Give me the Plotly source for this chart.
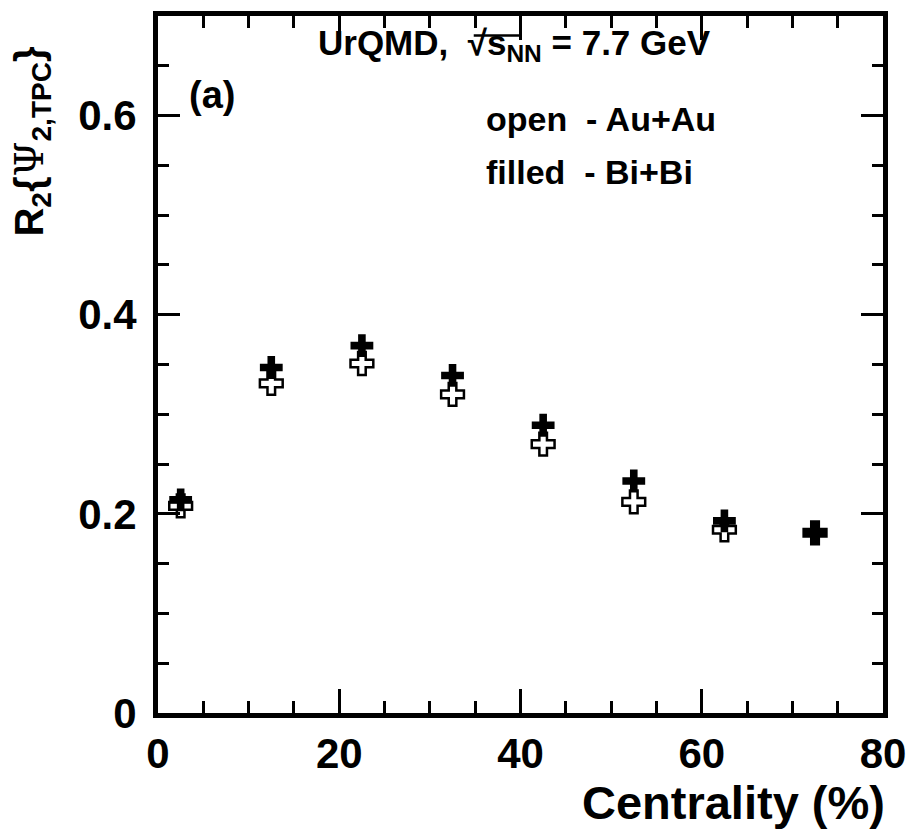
import plotly.graph_objects as go

centrality = [2.5, 12.5, 22.5, 32.5, 42.5, 52.5, 62.5, 72.5]
r2_auau = [0.208, 0.331, 0.351, 0.320, 0.270, 0.212, 0.184, 0.181]
r2_bibi = [0.214, 0.347, 0.369, 0.339, 0.289, 0.233, 0.193, 0.181]

FONT = "Liberation Sans"

fig = go.Figure()
fig.add_trace(go.Scatter(
    x=centrality, y=r2_bibi, mode="markers", name="Bi+Bi",
    marker=dict(symbol="cross", size=19, color="black", line=dict(color="black", width=0)),
))
fig.add_trace(go.Scatter(
    x=centrality, y=r2_auau, mode="markers", name="Au+Au",
    marker=dict(symbol="cross-open", size=19, color="black", line=dict(color="black", width=2.5)),
))

axis_common = dict(
    showline=True, linewidth=5, linecolor="black", mirror="ticks",
    ticks="inside", tickwidth=3, tickcolor="black",
    showgrid=False, zeroline=False,
    tickfont=dict(family=FONT, size=42, color="black", weight="bold"),
)

fig.update_xaxes(range=[0, 80], dtick=20, tick0=0, ticklen=24,
                 minor=dict(dtick=5, ticklen=12, tickwidth=3, ticks="inside", tickcolor="black", showgrid=False),
                 ticklabelstandoff=0,
                 **axis_common)
fig.update_yaxes(range=[0, 0.7], dtick=0.2, tick0=0, ticklen=22,
                 minor=dict(dtick=0.05, ticklen=11, tickwidth=3, ticks="inside", tickcolor="black", showgrid=False),
                 ticklabelstandoff=8,
                 **axis_common)

fig.add_annotation(xref="paper", yref="paper", x=1.005, y=-0.1285, xanchor="right", yanchor="middle",
                   text="Centrality (%)", showarrow=False,
                   font=dict(family=FONT, size=47, color="black", weight="bold"))
fig.add_annotation(xref="paper", yref="paper", x=-0.175, y=0.82, xanchor="center", yanchor="middle",
                   textangle=-90, showarrow=False,
                   text="R<sub>2</sub>{<span style='font-family:DejaVu Serif;font-weight:normal'>Ψ</span><sub>2,TPC</sub>}",
                   font=dict(family=FONT, size=40, color="black", weight="bold"))
fig.add_annotation(xref="paper", yref="paper", x=0.218, y=0.958, xanchor="left", yanchor="middle",
                   text="UrQMD,  √s<sub>NN</sub> = 7.7 GeV", showarrow=False,
                   font=dict(family=FONT, size=35, color="black", weight="bold"))
# vinculum of the square-root sign
fig.add_shape(type="line", xref="paper", yref="paper", x0=0.4355, x1=0.50, y0=0.972, y1=0.972,
              line=dict(color="black", width=2.5))
fig.add_annotation(xref="paper", yref="paper", x=0.04, y=0.886, xanchor="left", yanchor="middle",
                   text="(a)", showarrow=False,
                   font=dict(family=FONT, size=38, color="black", weight="bold"))
fig.add_annotation(xref="paper", yref="paper", x=0.45, y=0.852, xanchor="left", yanchor="middle",
                   text="open  - Au+Au", showarrow=False,
                   font=dict(family=FONT, size=34, color="black", weight="bold"))
fig.add_annotation(xref="paper", yref="paper", x=0.45, y=0.776, xanchor="left", yanchor="middle",
                   text="filled  - Bi+Bi", showarrow=False,
                   font=dict(family=FONT, size=34, color="black", weight="bold"))

fig.update_layout(
    width=917, height=833,
    margin=dict(l=158, r=24, t=11, b=120),
    plot_bgcolor="white", paper_bgcolor="white",
    showlegend=False,
)

fig.write_html("out.html")
